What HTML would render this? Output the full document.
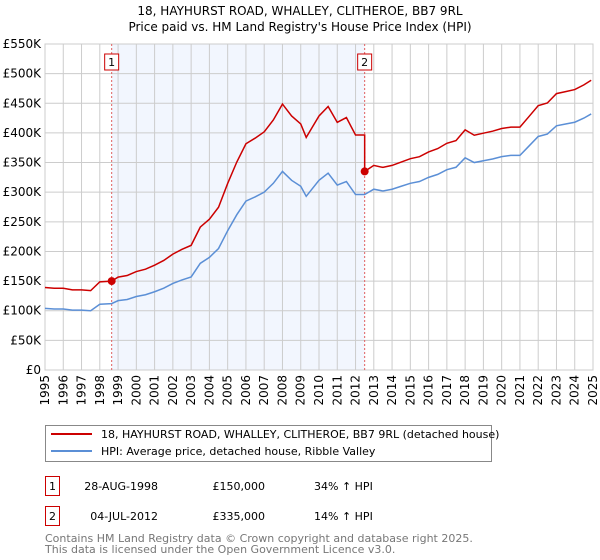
<!DOCTYPE html>
<html><head><meta charset="utf-8"><style>
body{margin:0;background:#fff;font-family:"DejaVu Sans","Liberation Sans",sans-serif;}
#wrap{position:relative;width:600px;height:560px;overflow:hidden}
</style></head><body><div id="wrap">
<svg id="chart" width="600" height="560" style="position:absolute;left:0;top:0"></svg>
</div>
<script>
const hpiYears=[1995,1995.5,1996,1996.5,1997,1997.5,1998,1998.65,1999,1999.5,2000,2000.5,2001,2001.5,2002,2002.5,2003,2003.5,2004,2004.5,2005,2005.5,2006,2006.5,2007,2007.5,2008,2008.5,2009,2009.3,2010,2010.5,2011,2011.5,2012,2012.5,2013,2013.5,2014,2014.5,2015,2015.5,2016,2016.5,2017,2017.5,2018,2018.5,2019,2019.5,2020,2020.5,2021,2021.5,2022,2022.5,2023,2023.5,2024,2024.5,2024.9];
const hpiValues=[104,103,103,101,101,100,111,112,117,119,124,127,132,138,146,152,157,180,190,205,235,262,285,292,300,315,335,320,310,293,320,332,312,318,296,296,305,302,305,310,315,318,325,330,338,342,358,350,353,356,360,362,362,378,394,398,412,415,418,425,432];
const saleYears=[1998.65,2012.5];
const salePrices=[150,335];
const saleLabels=["1","2"];
const yTicks=[0,50,100,150,200,250,300,350,400,450,500,550];
const yTickLabels=["£0","£50K","£100K","£150K","£200K","£250K","£300K","£350K","£400K","£450K","£500K","£550K"];
const xTicks=[1995,1996,1997,1998,1999,2000,2001,2002,2003,2004,2005,2006,2007,2008,2009,2010,2011,2012,2013,2014,2015,2016,2017,2018,2019,2020,2021,2022,2023,2024,2025];
const NS="http://www.w3.org/2000/svg";
const svg=document.getElementById('chart');
const X0=45,X1=593,Y0=370,Y1=44;
const xs=y=>X0+(y-1995)/30*(X1-X0);
const ys=v=>Y0-v/550*(Y0-Y1);
function mk(tag,attrs,parent){const e=document.createElementNS(NS,tag);for(const k in attrs)e.setAttribute(k,attrs[k]);(parent||svg).appendChild(e);return e;}
function hpiAt(y){for(let i=0;i<hpiYears.length-1;i++){if(y>=hpiYears[i]&&y<=hpiYears[i+1]){const f=(y-hpiYears[i])/(hpiYears[i+1]-hpiYears[i]);return hpiValues[i]+f*(hpiValues[i+1]-hpiValues[i]);}}return hpiValues[hpiValues.length-1];}
let t=mk('text',{x:300,y:15,'text-anchor':'middle','font-size':12});t.textContent="18, HAYHURST ROAD, WHALLEY, CLITHEROE, BB7 9RL";


t=mk('text',{x:300,y:31,'text-anchor':'middle','font-size':12});t.textContent="Price paid vs. HM Land Registry's House Price Index (HPI)";


let sh=mk('rect',{x:xs(saleYears[0]),y:Y1,width:xs(saleYears[1])-xs(saleYears[0]),height:Y0-Y1,fill:'#f2f6fe'});


yTicks.forEach((v,i)=>{
 const l=mk('line',{x1:X0,x2:X1,y1:ys(v),y2:ys(v),stroke:'#cccccc','stroke-width':1});
 
 
 const tx=mk('text',{x:X0-4,y:ys(v)+4,'text-anchor':'end','font-size':12});tx.textContent=yTickLabels[i];
 
 
});
xTicks.forEach(y=>{
 const l=mk('line',{x1:xs(y),x2:xs(y),y1:Y1,y2:Y0,stroke:'#cccccc','stroke-width':1});
 
 
 const tx=mk('text',{x:0,y:0,'text-anchor':'end','font-size':12,transform:`translate(${xs(y)+4},375) rotate(-90)`});tx.textContent=y;
 
 
});
const fr=mk('rect',{x:X0,y:Y1,width:X1-X0,height:Y0-Y1,fill:'none',stroke:'#cccccc'});


saleYears.forEach((y,i)=>{
 const l=mk('line',{x1:xs(y),x2:xs(y),y1:Y1,y2:Y0,stroke:'#e06060','stroke-width':1,'stroke-dasharray':'2,2'});
 
 
 const b=mk('rect',{x:xs(y)-7,y:54,width:14,height:16,fill:'#fff',stroke:'#cc0000'});
 
 
 const tx=mk('text',{x:xs(y),y:66,'text-anchor':'middle','font-size':11});tx.textContent=saleLabels[i];
 
 
});
const hp=hpiYears.map((y,i)=>xs(y)+','+ys(hpiValues[i])).join(' ');
const hl=mk('polyline',{points:hp,fill:'none',stroke:'#5b8fd6','stroke-width':1.5});


const r1=salePrices[0]/hpiAt(saleYears[0]), r2=salePrices[1]/hpiAt(saleYears[1]);
let pts=[];
hpiYears.forEach((y,i)=>{ if(y<saleYears[1]) pts.push(xs(y)+','+ys(hpiValues[i]*r1)); });
pts.push(xs(saleYears[1])+','+ys(hpiAt(saleYears[1])*r1));
pts.push(xs(saleYears[1])+','+ys(salePrices[1]));
hpiYears.forEach((y,i)=>{ if(y>saleYears[1]) pts.push(xs(y)+','+ys(hpiValues[i]*r2)); });
const pl=mk('polyline',{points:pts.join(' '),fill:'none',stroke:'#cc0000','stroke-width':1.5});


saleYears.forEach((y,i)=>{
 const c=mk('circle',{cx:xs(y),cy:ys(salePrices[i]),r:4,fill:'#cc0000'});
 
 
});
const lg=mk('rect',{x:45.5,y:425.5,width:446,height:36,fill:'#fff',stroke:'#888'});


let ll=mk('line',{x1:51,x2:92,y1:434,y2:434,stroke:'#cc0000','stroke-width':2});


ll=mk('line',{x1:51,x2:92,y1:451,y2:451,stroke:'#5b8fd6','stroke-width':2});


t=mk('text',{x:101,y:438,'font-size':11});t.textContent="18, HAYHURST ROAD, WHALLEY, CLITHEROE, BB7 9RL (detached house)";


t=mk('text',{x:101,y:455,'font-size':11});t.textContent="HPI: Average price, detached house, Ribble Valley";


const rowsY=[476,506];
const dates=["28-AUG-1998","04-JUL-2012"],prices=["£150,000","£335,000"],pcts=["34% ↑ HPI","14% ↑ HPI"];
rowsY.forEach((ry,i)=>{
 const b=mk('rect',{x:45.5,y:ry+0.5,width:14,height:19,fill:'#fff',stroke:'#cc0000'});
 
 
 let tx=mk('text',{x:52.5,y:ry+14,'text-anchor':'middle','font-size':11});tx.textContent=saleLabels[i];
 
 
 tx=mk('text',{x:158,y:ry+14,'text-anchor':'end','font-size':11});tx.textContent=dates[i];
 
 
 tx=mk('text',{x:265,y:ry+14,'text-anchor':'end','font-size':11});tx.textContent=prices[i];
 
 
 tx=mk('text',{x:314,y:ry+14,'font-size':11});tx.textContent=pcts[i];
 
 
});
t=mk('text',{x:45,y:542,'font-size':11,fill:'#777'});t.textContent="Contains HM Land Registry data © Crown copyright and database right 2025.";


t=mk('text',{x:45,y:553,'font-size':11,fill:'#777'});t.textContent="This data is licensed under the Open Government Licence v3.0.";


</script></body></html>
